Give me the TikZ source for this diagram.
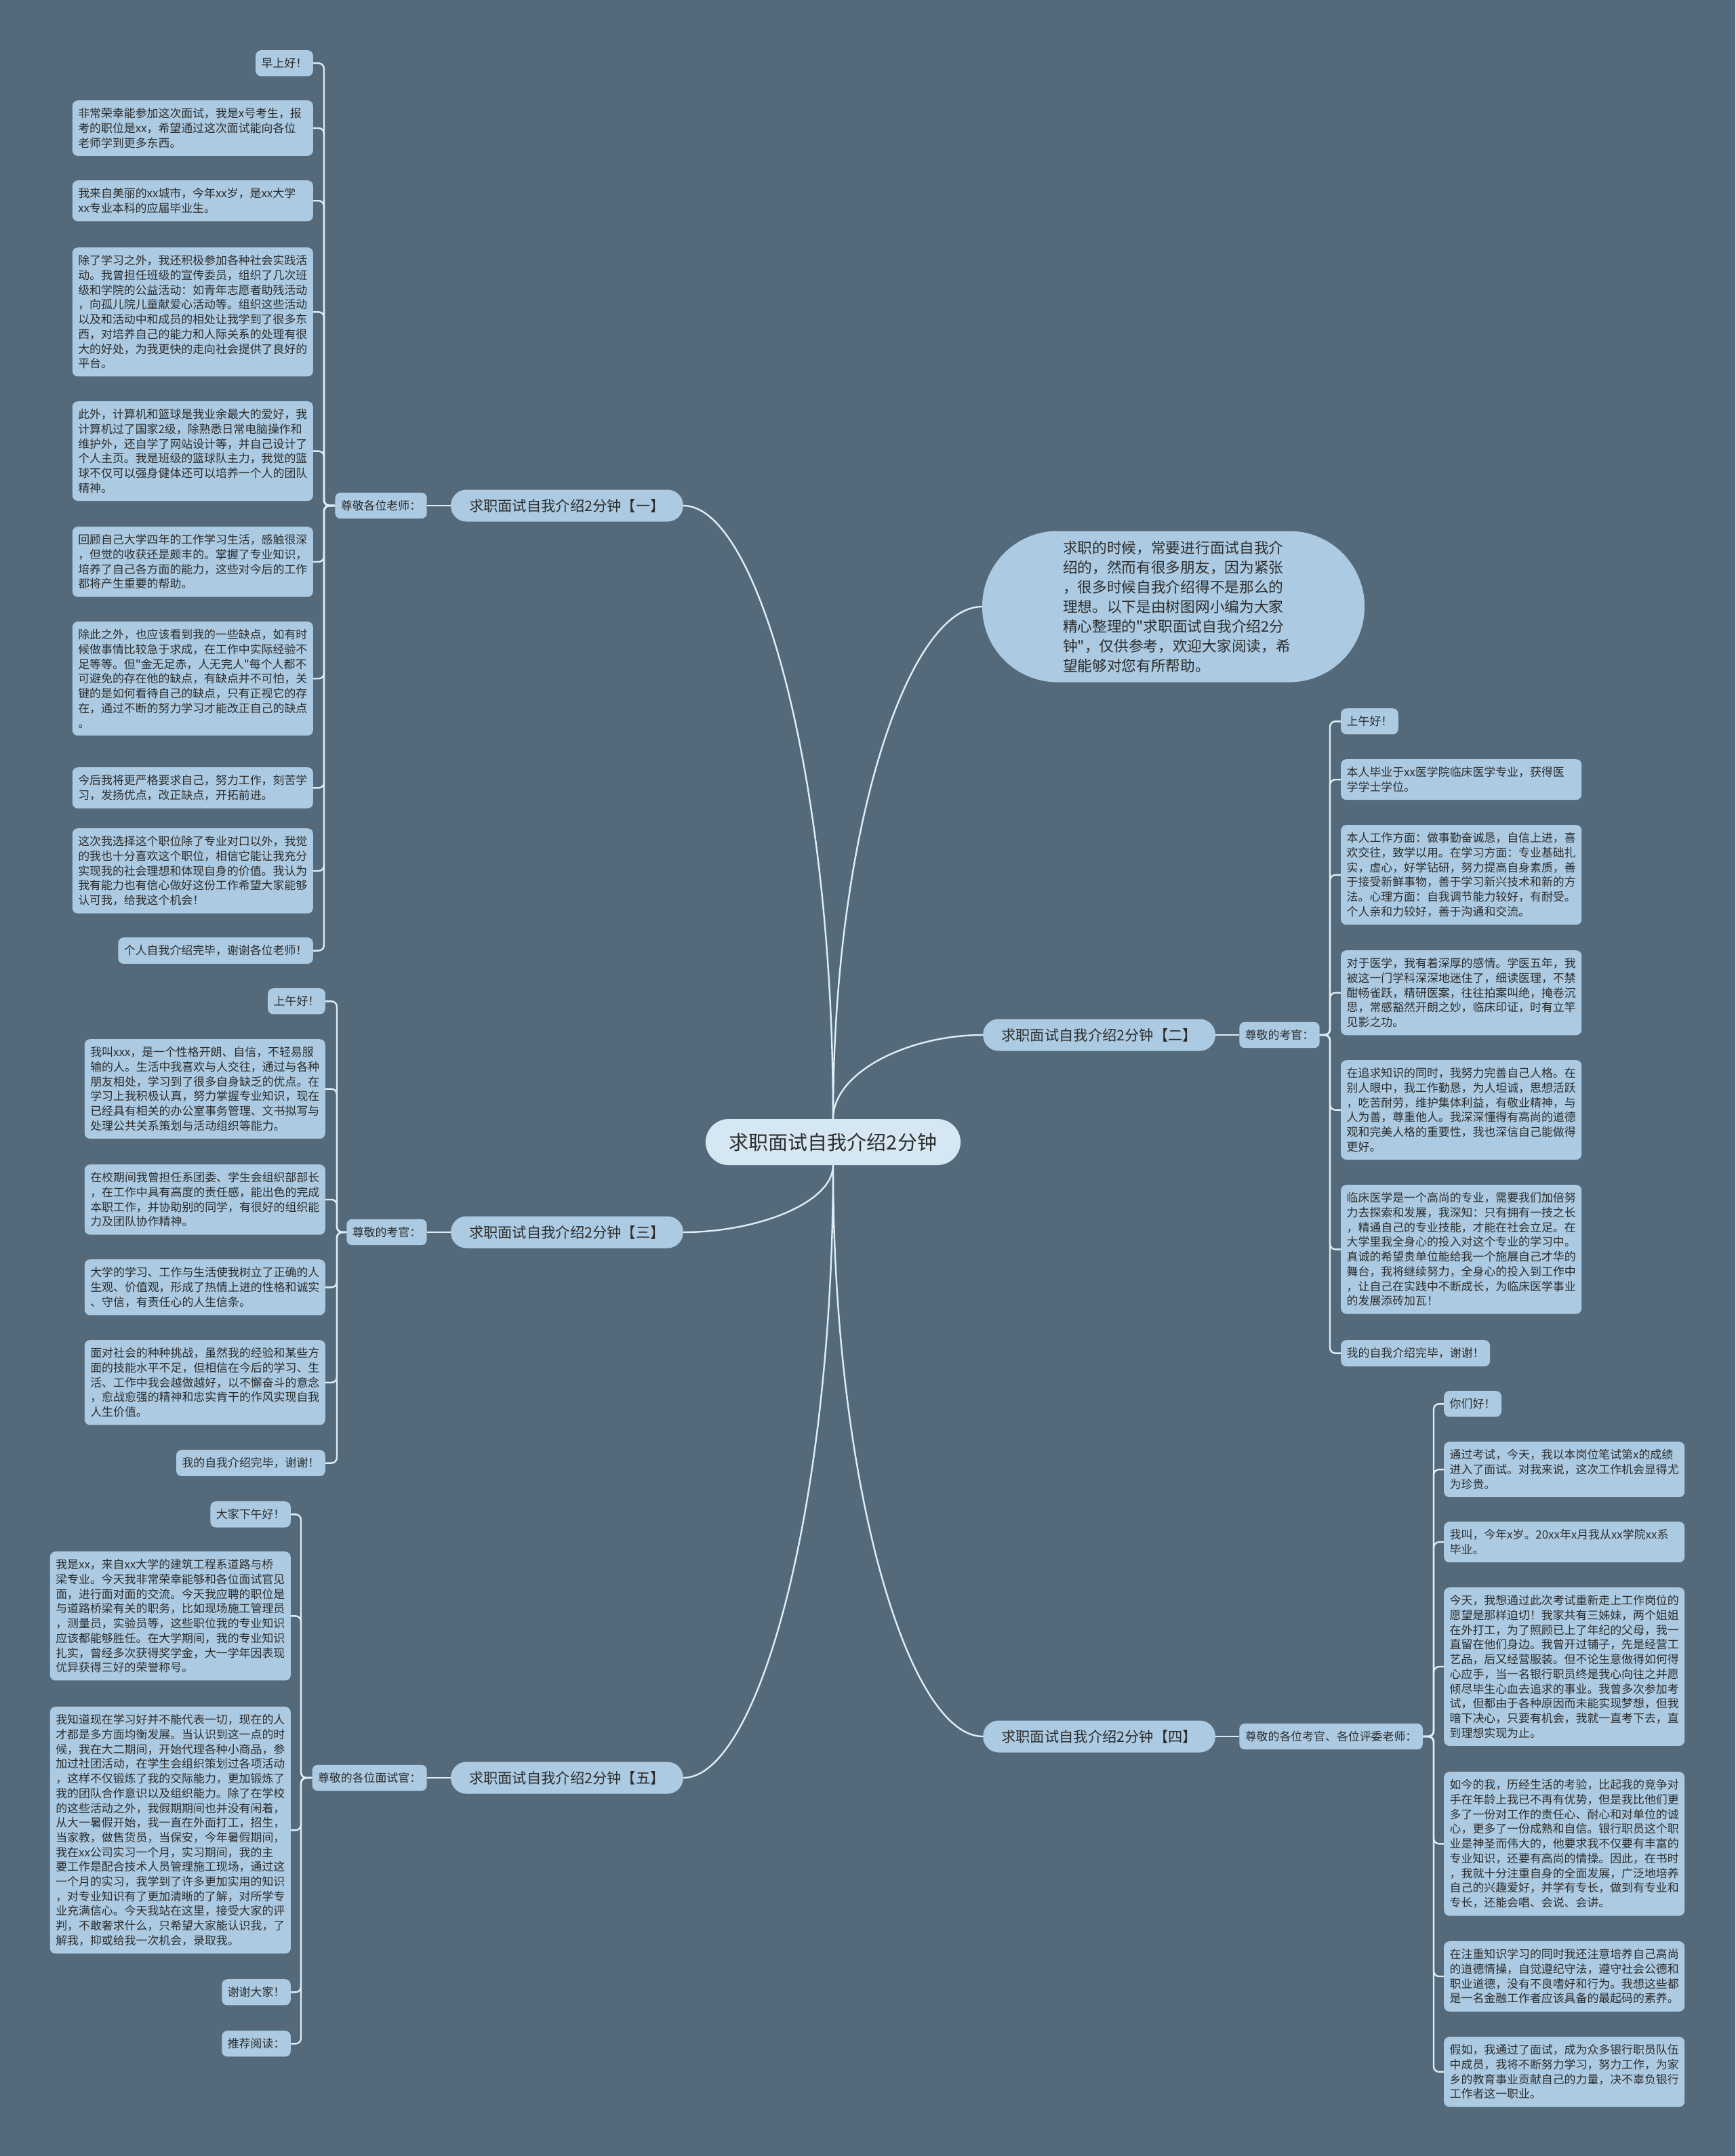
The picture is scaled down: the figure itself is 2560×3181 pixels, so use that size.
\documentclass[tikz,border=0pt]{standalone}
\usepackage{fontspec}
\newfontfamily\cjk{Noto Sans CJK SC}
\usetikzlibrary{positioning, calc}
\definecolor{mapbg}{RGB}{84, 106, 122}
\definecolor{leafbg}{RGB}{172, 203, 226}
\definecolor{rootbg}{RGB}{213, 231, 243}
\definecolor{linkcol}{RGB}{222, 237, 247}
\definecolor{inkgray}{RGB}{45, 45, 45}

\begin{document}
\begin{tikzpicture}[
  x=1pt, y=-1pt,
  node distance=35pt,
  leaf/.style={rectangle, rounded corners=8pt, fill=leafbg, text=inkgray,
               inner xsep=8.5pt, inner ysep=11.3pt, font=\cjk\fontsize{16.9}{21.7}\selectfont},
  parabox/.style={leaf, text width=338pt, align=left},
  greetbox/.style={leaf},
  branchbox/.style={rectangle, rounded corners=23pt, fill=leafbg, text=inkgray,
                    inner xsep=27pt, inner ysep=12pt, minimum height=47pt,
                    font=\cjk\fontsize{21.3}{26}\selectfont},
  rootnode/.style={rectangle, rounded corners=34pt, fill=rootbg, text=inkgray,
                   inner xsep=35pt, inner ysep=18pt, minimum height=68pt,
                   font=\cjk\fontsize{29}{35}\selectfont},
  introbox/.style={rectangle, rounded corners=111pt, fill=leafbg, text=inkgray,
                   text width=326pt, align=left, inner xsep=119pt, minimum height=223pt,
                   font=\cjk\fontsize{21.7}{28.9}\selectfont},
  linkline/.style={draw=linkcol, line width=2.4pt, rounded corners=8pt}
]
  \useasboundingbox (0,0) rectangle (2560,3181);
  \fill[mapbg] (0,0) rectangle (2560,3181);

  \node[rootnode] (root) at (1229,1685) {求职面试自我介绍2分钟};
  \node[introbox] (intro) at (1731,895) {求职的时候，常要进行面试自我介\\绍的，然而有很多朋友，因为紧张\\，很多时候自我介绍得不是那么的\\理想。以下是由树图网小编为大家\\精心整理的"求职面试自我介绍2分\\钟"，仅供参考，欢迎大家阅读，希\\望能够对您有所帮助。};

  \node[branchbox, anchor=east] (br1) at (1008,746) {求职面试自我介绍2分钟【一】};
  \node[branchbox, anchor=west] (br2) at (1450,1527) {求职面试自我介绍2分钟【二】};
  \node[branchbox, anchor=east] (br3) at (1008,1818) {求职面试自我介绍2分钟【三】};
  \node[branchbox, anchor=west] (br4) at (1450,2562) {求职面试自我介绍2分钟【四】};
  \node[branchbox, anchor=east] (br5) at (1008,2623) {求职面试自我介绍2分钟【五】};

  \node[greetbox, left=of br1] (sal1) {尊敬各位老师：};
  \node[greetbox, right=of br2] (sal2) {尊敬的考官：};
  \node[greetbox, left=of br3] (sal3) {尊敬的考官：};
  \node[greetbox, right=of br4] (sal4) {尊敬的各位考官、各位评委老师：};
  \node[greetbox, left=of br5] (sal5) {尊敬的各位面试官：};

  \coordinate (sp1) at (478,746);
  \coordinate (sp2) at (1962,1527);
  \coordinate (sp3) at (497,1818);
  \coordinate (sp4) at (2115,2562);
  \coordinate (sp5) at (444,2623);

  \node[leaf, anchor=north east] (a1) at (462,74) {早上好！};
  \node[parabox, anchor=north east] (a2) at (462,148) {非常荣幸能参加这次面试，我是x号考生，报\\考的职位是xx，希望通过这次面试能向各位\\老师学到更多东西。};
  \node[parabox, anchor=north east] (a3) at (462,266) {我来自美丽的xx城市，今年xx岁，是xx大学\\xx专业本科的应届毕业生。};
  \node[parabox, anchor=north east] (a4) at (462,365) {除了学习之外，我还积极参加各种社会实践活\\动。我曾担任班级的宣传委员，组织了几次班\\级和学院的公益活动：如青年志愿者助残活动\\，向孤儿院儿童献爱心活动等。组织这些活动\\以及和活动中和成员的相处让我学到了很多东\\西，对培养自己的能力和人际关系的处理有很\\大的好处，为我更快的走向社会提供了良好的\\平台。};
  \node[parabox, anchor=north east] (a5) at (462,592) {此外，计算机和篮球是我业余最大的爱好，我\\计算机过了国家2级，除熟悉日常电脑操作和\\维护外，还自学了网站设计等，并自己设计了\\个人主页。我是班级的篮球队主力，我觉的篮\\球不仅可以强身健体还可以培养一个人的团队\\精神。};
  \node[parabox, anchor=north east] (a6) at (462,777) {回顾自己大学四年的工作学习生活，感触很深\\，但觉的收获还是颇丰的。掌握了专业知识，\\培养了自己各方面的能力，这些对今后的工作\\都将产生重要的帮助。};
  \node[parabox, anchor=north east] (a7) at (462,917) {除此之外，也应该看到我的一些缺点，如有时\\候做事情比较急于求成，在工作中实际经验不\\足等等。但"金无足赤，人无完人"每个人都不\\可避免的存在他的缺点，有缺点并不可怕，关\\键的是如何看待自己的缺点，只有正视它的存\\在，通过不断的努力学习才能改正自己的缺点\\。};
  \node[parabox, anchor=north east] (a8) at (462,1132) {今后我将更严格要求自己，努力工作，刻苦学\\习，发扬优点，改正缺点，开拓前进。};
  \node[parabox, anchor=north east] (a9) at (462,1222) {这次我选择这个职位除了专业对口以外，我觉\\的我也十分喜欢这个职位，相信它能让我充分\\实现我的社会理想和体现自身的价值。我认为\\我有能力也有信心做好这份工作希望大家能够\\认可我，给我这个机会！};
  \node[leaf, anchor=north east] (a10) at (462,1383) {个人自我介绍完毕，谢谢各位老师！};

  \node[leaf, anchor=north west] (b1) at (1978,1045) {上午好！};
  \node[parabox, anchor=north west] (b2) at (1978,1120) {本人毕业于xx医学院临床医学专业，获得医\\学学士学位。};
  \node[parabox, anchor=north west] (b3) at (1978,1217) {本人工作方面：做事勤奋诚恳，自信上进，喜\\欢交往，致学以用。在学习方面：专业基础扎\\实，虚心，好学钻研，努力提高自身素质，善\\于接受新鲜事物，善于学习新兴技术和新的方\\法。心理方面：自我调节能力较好，有耐受。\\个人亲和力较好，善于沟通和交流。};
  \node[parabox, anchor=north west] (b4) at (1978,1402) {对于医学，我有着深厚的感情。学医五年，我\\被这一门学科深深地迷住了，细读医理，不禁\\酣畅雀跃，精研医案，往往拍案叫绝，掩卷沉\\思，常感豁然开朗之妙，临床印证，时有立竿\\见影之功。};
  \node[parabox, anchor=north west] (b5) at (1978,1564) {在追求知识的同时，我努力完善自己人格。在\\别人眼中，我工作勤恳，为人坦诚，思想活跃\\，吃苦耐劳，维护集体利益，有敬业精神，与\\人为善，尊重他人。我深深懂得有高尚的道德\\观和完美人格的重要性，我也深信自己能做得\\更好。};
  \node[parabox, anchor=north west] (b6) at (1978,1748) {临床医学是一个高尚的专业，需要我们加倍努\\力去探索和发展，我深知：只有拥有一技之长\\，精通自己的专业技能，才能在社会立足。在\\大学里我全身心的投入对这个专业的学习中。\\真诚的希望贵单位能给我一个施展自己才华的\\舞台，我将继续努力，全身心的投入到工作中\\，让自己在实践中不断成长，为临床医学事业\\的发展添砖加瓦！};
  \node[leaf, anchor=north west] (b7) at (1978,1977) {我的自我介绍完毕，谢谢！};

  \node[leaf, anchor=north east] (c1) at (480,1458) {上午好！};
  \node[parabox, anchor=north east] (c2) at (480,1533) {我叫xxx，是一个性格开朗、自信，不轻易服\\输的人。生活中我喜欢与人交往，通过与各种\\朋友相处，学习到了很多自身缺乏的优点。在\\学习上我积极认真，努力掌握专业知识，现在\\已经具有相关的办公室事务管理、文书拟写与\\处理公共关系策划与活动组织等能力。};
  \node[parabox, anchor=north east] (c3) at (480,1718) {在校期间我曾担任系团委、学生会组织部部长\\，在工作中具有高度的责任感，能出色的完成\\本职工作，并协助别的同学，有很好的组织能\\力及团队协作精神。};
  \node[parabox, anchor=north east] (c4) at (480,1858) {大学的学习、工作与生活使我树立了正确的人\\生观、价值观，形成了热情上进的性格和诚实\\、守信，有责任心的人生信条。};
  \node[parabox, anchor=north east] (c5) at (480,1977) {面对社会的种种挑战，虽然我的经验和某些方\\面的技能水平不足，但相信在今后的学习、生\\活、工作中我会越做越好，以不懈奋斗的意念\\，愈战愈强的精神和忠实肯干的作风实现自我\\人生价值。};
  \node[leaf, anchor=north east] (c6) at (480,2139) {我的自我介绍完毕，谢谢！};

  \node[leaf, anchor=north west] (d1) at (2130,2052) {你们好！};
  \node[parabox, anchor=north west] (d2) at (2130,2127) {通过考试，今天，我以本岗位笔试第x的成绩\\进入了面试。对我来说，这次工作机会显得尤\\为珍贵。};
  \node[parabox, anchor=north west] (d3) at (2130,2245) {我叫，今年x岁。20xx年x月我从xx学院xx系\\毕业。};
  \node[parabox, anchor=north west] (d4) at (2130,2342) {今天，我想通过此次考试重新走上工作岗位的\\愿望是那样迫切！我家共有三姊妹，两个姐姐\\在外打工，为了照顾已上了年纪的父母，我一\\直留在他们身边。我曾开过铺子，先是经营工\\艺品，后又经营服装。但不论生意做得如何得\\心应手，当一名银行职员终是我心向往之并愿\\倾尽毕生心血去追求的事业。我曾多次参加考\\试，但都由于各种原因而未能实现梦想，但我\\暗下决心，只要有机会，我就一直考下去，直\\到理想实现为止。};
  \node[parabox, anchor=north west] (d5) at (2130,2614) {如今的我，历经生活的考验，比起我的竞争对\\手在年龄上我已不再有优势，但是我比他们更\\多了一份对工作的责任心、耐心和对单位的诚\\心，更多了一份成熟和自信。银行职员这个职\\业是神圣而伟大的，他要求我不仅要有丰富的\\专业知识，还要有高尚的情操。因此，在书时\\，我就十分注重自身的全面发展，广泛地培养\\自己的兴趣爱好，并学有专长，做到有专业和\\专长，还能会唱、会说、会讲。};
  \node[parabox, anchor=north west] (d6) at (2130,2864) {在注重知识学习的同时我还注意培养自己高尚\\的道德情操，自觉遵纪守法，遵守社会公德和\\职业道德，没有不良嗜好和行为。我想这些都\\是一名金融工作者应该具备的最起码的素养。};
  \node[parabox, anchor=north west] (d7) at (2130,3005) {假如，我通过了面试，成为众多银行职员队伍\\中成员，我将不断努力学习，努力工作，为家\\乡的教育事业贡献自己的力量，决不辜负银行\\工作者这一职业。};

  \node[leaf, anchor=north east] (e1) at (429,2215) {大家下午好！};
  \node[parabox, anchor=north east] (e2) at (429,2289) {我是xx，来自xx大学的建筑工程系道路与桥\\梁专业。今天我非常荣幸能够和各位面试官见\\面，进行面对面的交流。今天我应聘的职位是\\与道路桥梁有关的职务，比如现场施工管理员\\，测量员，实验员等，这些职位我的专业知识\\应该都能够胜任。在大学期间，我的专业知识\\扎实，曾经多次获得奖学金，大一学年因表现\\优异获得三好的荣誉称号。};
  \node[parabox, anchor=north east] (e3) at (429,2518) {我知道现在学习好并不能代表一切，现在的人\\才都是多方面均衡发展。当认识到这一点的时\\候，我在大二期间，开始代理各种小商品，参\\加过社团活动，在学生会组织策划过各项活动\\，这样不仅锻炼了我的交际能力，更加锻炼了\\我的团队合作意识以及组织能力。除了在学校\\的这些活动之外，我假期期间也并没有闲着，\\从大一暑假开始，我一直在外面打工，招生，\\当家教，做售货员，当保安，今年暑假期间，\\我在xx公司实习一个月，实习期间，我的主\\要工作是配合技术人员管理施工现场，通过这\\一个月的实习，我学到了许多更加实用的知识\\，对专业知识有了更加清晰的了解，对所学专\\业充满信心。今天我站在这里，接受大家的评\\判，不敢奢求什么，只希望大家能认识我，了\\解我，抑或给我一次机会，录取我。};
  \node[leaf, anchor=north east] (e4) at (429,2920) {谢谢大家！};
  \node[leaf, anchor=north east] (e5) at (429,2996) {推荐阅读：};

  \draw[linkline] (root.north) .. controls +(0,-507) and +(110,0) .. (br1.east);
  \draw[linkline] (root.north) .. controls +(0,-423) and +(-110,0) .. (intro.west);
  \draw[linkline] (root.north) .. controls +(0,-69) and +(-110,0) .. (br2.west);
  \draw[linkline] (root.south) .. controls +(0,55) and +(110,0) .. (br3.east);
  \draw[linkline] (root.south) .. controls +(0,472) and +(-110,0) .. (br4.west);
  \draw[linkline] (root.south) .. controls +(0,506) and +(110,0) .. (br5.east);

  \draw[linkline] (br1) -- (sal1);
  \draw[linkline] (br2) -- (sal2);
  \draw[linkline] (br3) -- (sal3);
  \draw[linkline] (br4) -- (sal4);
  \draw[linkline] (br5) -- (sal5);

  \foreach \n in {1,...,10}
    \draw[linkline] (sal1.west) -- (sal1.west -| sp1) |- (a\n.east);
  \foreach \n in {1,...,7}
    \draw[linkline] (sal2.east) -- (sal2.east -| sp2) |- (b\n.west);
  \foreach \n in {1,...,6}
    \draw[linkline] (sal3.west) -- (sal3.west -| sp3) |- (c\n.east);
  \foreach \n in {1,...,7}
    \draw[linkline] (sal4.east) -- (sal4.east -| sp4) |- (d\n.west);
  \foreach \n in {1,...,5}
    \draw[linkline] (sal5.west) -- (sal5.west -| sp5) |- (e\n.east);
\end{tikzpicture}
\end{document}
